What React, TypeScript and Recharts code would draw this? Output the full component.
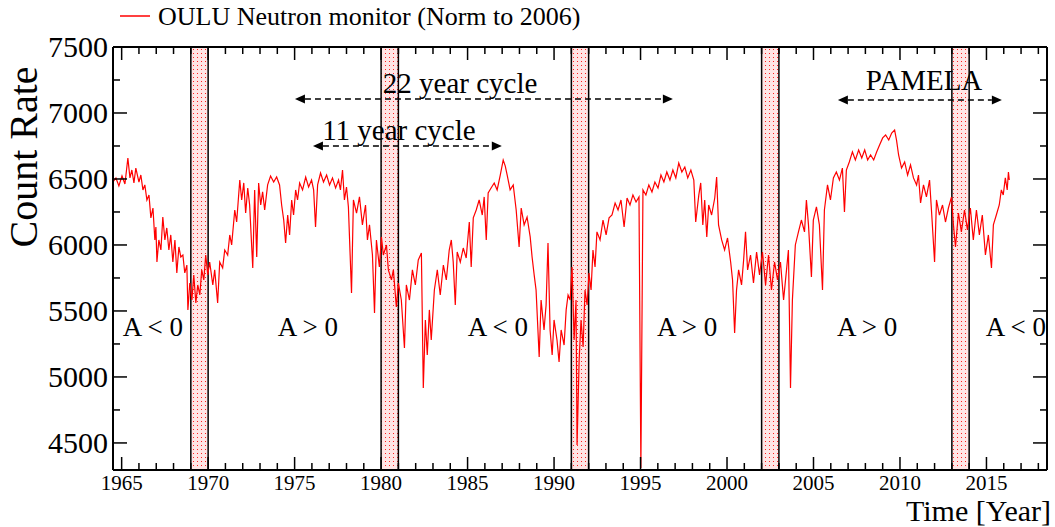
import React from 'react';
import { LineChart, Line, XAxis, YAxis, ReferenceArea, ReferenceLine, ReferenceDot } from 'recharts';

const years = [
  1964.50, 1964.67, 1964.84, 1965.02, 1965.19, 1965.36, 1965.48, 1965.59, 1965.71, 1965.82,
  1966.00, 1966.11, 1966.23, 1966.34, 1966.46, 1966.58, 1966.69, 1966.81, 1966.92, 1966.98,
  1967.04, 1967.15, 1967.27, 1967.38, 1967.50, 1967.61, 1967.73, 1967.84, 1967.96, 1968.08,
  1968.19, 1968.31, 1968.42, 1968.54, 1968.65, 1968.77, 1968.83, 1968.94, 1969.06, 1969.17,
  1969.29, 1969.40, 1969.52, 1969.63, 1969.75, 1969.86, 1969.98, 1970.09, 1970.27, 1970.38,
  1970.55, 1970.67, 1970.84, 1970.96, 1971.13, 1971.25, 1971.36, 1971.54, 1971.65, 1971.83,
  1971.94, 1972.06, 1972.17, 1972.29, 1972.40, 1972.58, 1972.69, 1972.81, 1972.92, 1973.04,
  1973.15, 1973.27, 1973.44, 1973.61, 1973.79, 1973.96, 1974.13, 1974.25, 1974.37, 1974.48,
  1974.60, 1974.71, 1974.83, 1974.94, 1975.06, 1975.17, 1975.29, 1975.46, 1975.64, 1975.81,
  1975.98, 1976.10, 1976.21, 1976.33, 1976.50, 1976.67, 1976.85, 1977.02, 1977.19, 1977.37,
  1977.54, 1977.65, 1977.77, 1977.88, 1978.00, 1978.11, 1978.29, 1978.40, 1978.58, 1978.75,
  1978.92, 1979.10, 1979.21, 1979.33, 1979.50, 1979.62, 1979.73, 1979.90, 1980.02, 1980.13,
  1980.31, 1980.42, 1980.60, 1980.71, 1980.88, 1981.00, 1981.17, 1981.35, 1981.46, 1981.64,
  1981.81, 1981.98, 1982.15, 1982.33, 1982.44, 1982.56, 1982.67, 1982.79, 1982.90, 1983.08,
  1983.25, 1983.42, 1983.60, 1983.77, 1983.94, 1984.06, 1984.17, 1984.29, 1984.40, 1984.58,
  1984.75, 1984.92, 1985.10, 1985.21, 1985.33, 1985.50, 1985.67, 1985.85, 1985.96, 1986.08,
  1986.19, 1986.36, 1986.54, 1986.71, 1986.89, 1987.06, 1987.18, 1987.29, 1987.46, 1987.64,
  1987.81, 1987.98, 1988.10, 1988.27, 1988.44, 1988.62, 1988.73, 1988.85, 1988.96, 1989.14,
  1989.25, 1989.42, 1989.54, 1989.65, 1989.77, 1989.89, 1990.00, 1990.17, 1990.29, 1990.41,
  1990.58, 1990.70, 1990.81, 1990.93, 1991.04, 1991.16, 1991.27, 1991.33, 1991.45, 1991.56,
  1991.68, 1991.79, 1991.91, 1992.02, 1992.14, 1992.25, 1992.37, 1992.48, 1992.66, 1992.83,
  1993.01, 1993.18, 1993.35, 1993.53, 1993.70, 1993.87, 1994.05, 1994.22, 1994.39, 1994.56,
  1994.74, 1994.91, 1995.02, 1995.14, 1995.31, 1995.48, 1995.66, 1995.83, 1996.01, 1996.18,
  1996.35, 1996.52, 1996.70, 1996.87, 1997.04, 1997.21, 1997.39, 1997.56, 1997.73, 1997.91,
  1998.08, 1998.19, 1998.37, 1998.48, 1998.60, 1998.71, 1998.83, 1998.94, 1999.11, 1999.29,
  1999.40, 1999.51, 1999.69, 1999.86, 2000.03, 2000.21, 2000.32, 2000.44, 2000.55, 2000.67,
  2000.84, 2000.96, 2001.07, 2001.19, 2001.36, 2001.53, 2001.71, 2001.88, 2002.05, 2002.23,
  2002.40, 2002.57, 2002.75, 2002.92, 2003.09, 2003.27, 2003.44, 2003.55, 2003.67, 2003.78,
  2003.95, 2004.13, 2004.30, 2004.48, 2004.59, 2004.71, 2004.88, 2004.99, 2005.17, 2005.34,
  2005.52, 2005.63, 2005.81, 2005.98, 2006.15, 2006.32, 2006.50, 2006.67, 2006.79, 2006.90,
  2007.07, 2007.25, 2007.42, 2007.61, 2007.79, 2007.96, 2008.13, 2008.30, 2008.48, 2008.65,
  2008.82, 2009.00, 2009.17, 2009.35, 2009.52, 2009.69, 2009.80, 2009.92, 2010.09, 2010.27,
  2010.44, 2010.61, 2010.78, 2010.96, 2011.07, 2011.19, 2011.36, 2011.53, 2011.71, 2011.82,
  2012.00, 2012.11, 2012.28, 2012.46, 2012.63, 2012.80, 2012.98, 2013.09, 2013.21, 2013.38,
  2013.55, 2013.73, 2013.90, 2014.07, 2014.24, 2014.42, 2014.59, 2014.76, 2014.94, 2015.11,
  2015.29, 2015.40, 2015.57, 2015.74, 2015.86, 2015.97, 2016.09, 2016.20, 2016.27, 2016.32,
];

// OULU count rate (normalised to 2006)
const rates = [
  6477, 6508, 6447, 6523, 6462, 6659, 6508, 6568, 6470, 6583,
  6477, 6530, 6417, 6455, 6341, 6379, 6205, 6280, 6038, 6136,
  5871, 6038, 5962, 6212, 6038, 6129, 5962, 6076, 5871, 6038,
  5788, 5985, 5909, 5924, 5788, 5848, 5508, 5712, 5583, 5773,
  5561, 5697, 5621, 5811, 5735, 5924, 5773, 5871, 5697, 5811,
  5561, 5871, 5826, 5962, 5924, 6076, 6000, 6265, 6174, 6492,
  6341, 6470, 6242, 6432, 6303, 5826, 6417, 5909, 6470, 6303,
  6402, 6265, 6455, 6523, 6477, 6515, 6455, 6303, 6189, 6015,
  6227, 6076, 6341, 6227, 6417, 6341, 6470, 6417, 6515, 6439,
  6492, 6417, 6136, 6455, 6545, 6477, 6530, 6455, 6508, 6432,
  6492, 6417, 6568, 6341, 6439, 6288, 5636, 6341, 6242, 6364,
  6152, 6303, 6038, 6152, 5924, 5485, 6038, 5833, 6061, 5924,
  6000, 5811, 5735, 5811, 5530, 5712, 5583, 5220, 5697, 5583,
  5811, 5697, 5886, 5939, 4917, 5432, 5167, 5508, 5280, 5659,
  5811, 5621, 5848, 5735, 5962, 6038, 5871, 5545, 5947, 5871,
  5977, 5901, 6174, 5833, 6205, 6265, 6341, 6227, 6364, 6038,
  6394, 6432, 6470, 6417, 6530, 6644, 6598, 6530, 6417, 6455,
  6265, 5985, 6280, 6152, 6212, 6061, 5909, 5773, 5659, 5151,
  5583, 5356, 5545, 6015, 5356, 5167, 5432, 5280, 5114, 5356,
  5242, 5508, 5621, 5583, 5833, 5280, 5583, 4485, 5129, 5432,
  5227, 5659, 5545, 5788, 5659, 5962, 5833, 6099, 6038, 6189,
  6076, 6205, 6227, 6318, 6265, 6341, 6136, 6356, 6303, 6379,
  6326, 6364, 4310, 6417, 6379, 6455, 6402, 6477, 6432, 6530,
  6477, 6553, 6492, 6568, 6508, 6621, 6553, 6591, 6508, 6568,
  6492, 6174, 6379, 6470, 6152, 6341, 6061, 6303, 6227, 6356,
  6515, 6152, 6038, 5962, 6053, 5871, 5735, 5333, 5659, 5811,
  5697, 5886, 6099, 5811, 5924, 5712, 5947, 5773, 5947, 5697,
  5924, 5659, 5871, 5735, 5871, 5583, 5811, 5962, 4917, 5583,
  6000, 6099, 6189, 6099, 6341, 6152, 5758, 6189, 6288, 6152,
  5659, 6265, 6455, 6341, 6508, 6553, 6492, 6583, 6250, 6568,
  6629, 6705, 6644, 6720, 6659, 6720, 6644, 6682, 6644, 6705,
  6758, 6811, 6833, 6795, 6848, 6871, 6795, 6682, 6583, 6629,
  6530, 6606, 6508, 6455, 6530, 6318, 6455, 6364, 6492, 6265,
  5871, 6341, 6227, 6303, 6174, 6280, 6364, 6152, 5985, 6242,
  6099, 6265, 6114, 6280, 6038, 6265, 6076, 6227, 5924, 6076,
  5826, 6152, 6227, 6303, 6417, 6379, 6508, 6417, 6553, 6492,
];

// solar field reversal periods
const bandStarts = [1969, 1980, 1991, 2002, 2013];
const bandEnds = [1970, 1981, 1992, 2003, 2014];

const polarityLabels = ['A < 0', 'A > 0', 'A < 0', 'A > 0', 'A > 0', 'A < 0'];
const polarityYears = [1966.8, 1975.77, 1986.75, 1997.7, 2008.1, 2016.7];
const polarityLevel = 5386;

const arrowNames = ['22 year cycle', '11 year cycle', 'PAMELA'];
const arrowFrom = [1975.02, 1976.06, 2006.41];
const arrowTo = [1996.87, 1986.98, 2015.89];
const arrowLevel = [7106, 6750, 7098];
const arrowTextYear = [1984.57, 1981.03, 2011.39];
const arrowTextLevel = [7227, 6875, 7250];

const xTicks = Array.from({ length: 54 }, (_, i) => 1965 + i);
const yTicks = Array.from({ length: 13 }, (_, i) => 4500 + i * 250);

const data = years.map((year, i) => ({ year, rate: rates[i] }));

const FONT = "'Liberation Serif', 'Times New Roman', serif";

const BottomTick = (p: any) => {
  const v = p.payload.value;
  const major = v % 5 === 0;
  return (
    <g>
      <line x1={p.x} x2={p.x} y1={p.y} y2={p.y - (major ? 13 : 7)} stroke="#000" strokeWidth={1.5} />
      {major && (
        <text x={p.x} y={p.y + 20} textAnchor="middle" fontSize={21} fontFamily={FONT} fill="#000">
          {v}
        </text>
      )}
    </g>
  );
};

const TopTick = (p: any) => {
  const major = p.payload.value % 5 === 0;
  return <line x1={p.x} x2={p.x} y1={p.y} y2={p.y + (major ? 13 : 7)} stroke="#000" strokeWidth={1.5} />;
};

const LeftTick = (p: any) => {
  const v = p.payload.value;
  const major = v % 500 === 0;
  return (
    <g>
      <line x1={p.x} x2={p.x + (major ? 14 : 7)} y1={p.y} y2={p.y} stroke="#000" strokeWidth={1.5} />
      {major && (
        <text x={p.x - 5} y={p.y + 10} textAnchor="end" fontSize={30} fontFamily={FONT} fill="#000">
          {v}
        </text>
      )}
    </g>
  );
};

const RightTick = (p: any) => {
  const major = p.payload.value % 500 === 0;
  return <line x1={p.x} x2={p.x - (major ? 14 : 7)} y1={p.y} y2={p.y} stroke="#000" strokeWidth={1.5} />;
};

const DottedBand = (p: any) => {
  const id = `dots-${Math.round(p.x)}`;
  return (
    <g>
      <defs>
        <pattern id={id} x={0} y={0} width={4} height={4} patternUnits="userSpaceOnUse">
          <rect x={1} y={1} width={1} height={1} fill="#ff2020" />
        </pattern>
      </defs>
      <rect x={p.x} y={p.y} width={p.width} height={p.height} fill="#ff0000" fillOpacity={0.1} />
      <rect x={p.x} y={p.y} width={p.width} height={p.height} fill={`url(#${id})`} />
    </g>
  );
};

const DashArrow = (p: any) => {
  const { x1, y1, x2 } = p;
  const a = 10;
  const h = 4.5;
  return (
    <g>
      <line x1={x1 + a} x2={x2 - a} y1={y1} y2={y1} stroke="#000" strokeWidth={1.5} strokeDasharray="6 4" />
      <polygon points={`${x1},${y1} ${x1 + a},${y1 - h} ${x1 + a},${y1 + h}`} fill="#000" />
      <polygon points={`${x2},${y1} ${x2 - a},${y1 - h} ${x2 - a},${y1 + h}`} fill="#000" />
    </g>
  );
};

const axisLine = { stroke: '#000', strokeWidth: 2 };

export default function App() {
  return (
    <div style={{ position: 'absolute', left: 0, top: 0, width: 1055, height: 527, background: '#fff', fontFamily: FONT }}>
      <LineChart width={1055} height={527} data={data} margin={{ top: 46, right: 7, bottom: 27, left: 112 }}>
        <XAxis
          dataKey="year"
          type="number"
          domain={[1964.5, 2018.5]}
          allowDataOverflow
          ticks={xTicks}
          interval={0}
          height={30}
          tickSize={0}
          tickMargin={0}
          tickLine={false}
          axisLine={axisLine}
          tick={<BottomTick />}
        />
        <XAxis
          xAxisId="top"
          orientation="top"
          dataKey="year"
          type="number"
          domain={[1964.5, 2018.5]}
          allowDataOverflow
          ticks={xTicks}
          interval={0}
          height={1}
          tickSize={0}
          tickMargin={0}
          tickLine={false}
          axisLine={axisLine}
          tick={<TopTick />}
        />
        <YAxis
          type="number"
          domain={[4295, 7500]}
          allowDataOverflow
          ticks={yTicks}
          interval={0}
          width={1}
          tickSize={0}
          tickMargin={0}
          tickLine={false}
          axisLine={axisLine}
          tick={<LeftTick />}
        />
        <YAxis
          yAxisId="right"
          orientation="right"
          type="number"
          domain={[4295, 7500]}
          allowDataOverflow
          ticks={yTicks}
          interval={0}
          width={1}
          tickSize={0}
          tickMargin={0}
          tickLine={false}
          axisLine={axisLine}
          tick={<RightTick />}
        />

        {bandStarts.map((s, i) => (
          <ReferenceArea key={`band${i}`} x1={s} x2={bandEnds[i]} shape={<DottedBand />} />
        ))}
        {bandStarts.map((s, i) => (
          <ReferenceLine key={`bl${i}`} x={s} stroke="#000" strokeWidth={1.5} />
        ))}
        {bandEnds.map((s, i) => (
          <ReferenceLine key={`br${i}`} x={s} stroke="#000" strokeWidth={1.5} />
        ))}

        {arrowNames.map((n, i) => (
          <ReferenceLine
            key={`arr${i}`}
            segment={[
              { x: arrowFrom[i], y: arrowLevel[i] },
              { x: arrowTo[i], y: arrowLevel[i] },
            ]}
            shape={<DashArrow />}
          />
        ))}
        {arrowNames.map((n, i) => (
          <ReferenceDot
            key={`at${i}`}
            x={arrowTextYear[i]}
            y={arrowTextLevel[i]}
            r={0}
            fill="none"
            stroke="none"
            label={{ value: n, position: 'center', fontSize: 29, fill: '#000', fontFamily: FONT }}
          />
        ))}
        {polarityLabels.map((t, i) => (
          <ReferenceDot
            key={`pol${i}`}
            x={polarityYears[i]}
            y={polarityLevel}
            r={0}
            fill="none"
            stroke="none"
            label={{ value: t, position: 'center', fontSize: 27, fill: '#000', fontFamily: FONT }}
          />
        ))}

        <Line
          type="linear"
          dataKey="rate"
          stroke="#ff0000"
          strokeWidth={1.2}
          dot={false}
          activeDot={false}
          isAnimationActive={false}
        />
      </LineChart>
      <svg width={1055} height={527} style={{ position: 'absolute', left: 0, top: 0, pointerEvents: 'none' }}>
        <line x1={120} x2={150} y1={16} y2={16} stroke="#ff0000" strokeWidth={1.5} />
        <text x={158} y={25} fontSize={26} fontFamily={FONT} fill="#000">
          OULU Neutron monitor (Norm to 2006)
        </text>
        <text transform="translate(37,157) rotate(-90)" textAnchor="middle" fontSize={40} fontFamily={FONT} fill="#000">
          Count Rate
        </text>
        <text x={1051} y={521} textAnchor="end" fontSize={30} fontFamily={FONT} fill="#000">
          Time [Year]
        </text>
      </svg>
    </div>
  );
}
